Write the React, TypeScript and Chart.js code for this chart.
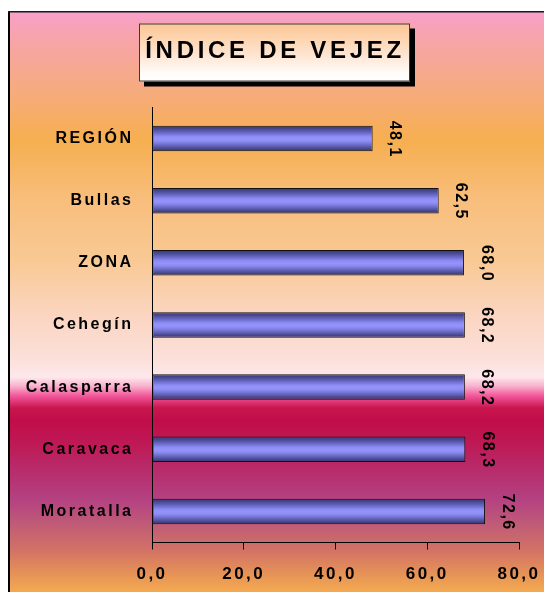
import React, { useEffect, useRef } from 'react';
import { Chart, registerables } from 'chart.js';

Chart.register(...registerables);

// ---- data ----
const categories = ['REGIÓN', 'Bullas', 'ZONA', 'Cehegín', 'Calasparra', 'Caravaca', 'Moratalla'];
const values = [48.1, 62.5, 68.0, 68.2, 68.2, 68.3, 72.6];
const xTicks = [0, 20, 40, 60, 80];
const titleText = 'ÍNDICE DE VEJEZ';

// ---- styles ----
const FONT = '"Liberation Sans", Arial, Helvetica, sans-serif';
const BAR_FRACTION = 0.41;
const bgStops: [number, string][] = [
  [11, '#F9A0CA'],
  [40, '#F7A4A8'],
  [100, '#F6AC76'],
  [140, '#F6AF50'],
  [200, '#F8BE7C'],
  [260, '#F9C994'],
  [320, '#FBD6C4'],
  [360, '#FCE0DA'],
  [377, '#FDE8EC'],
  [386, '#F9B2CE'],
  [396, '#F2569A'],
  [408, '#C8164E'],
  [420, '#C10D4A'],
  [445, '#BE1A55'],
  [470, '#B82C6C'],
  [500, '#B44282'],
  [525, '#C05C76'],
  [550, '#D27266'],
  [572, '#E49058'],
  [592, '#F4AA50'],
];
const barStops: [number, string][] = [
  [0, '#363670'],
  [0.12, '#484890'],
  [0.28, '#6a6ac8'],
  [0.42, '#8c8cf4'],
  [0.52, '#9494fc'],
  [0.62, '#8a8af0'],
  [0.76, '#6a6ac4'],
  [0.9, '#48488c'],
  [1, '#34346a'],
];

const fmt = (v: number) => Number(v).toFixed(1).replace('.', ',');

const backgroundPlugin = {
  id: 'backgroundPlugin',
  beforeDraw(chart: any) {
    const ctx = chart.ctx as CanvasRenderingContext2D;
    const W = chart.width;
    const H = chart.height;
    ctx.save();
    const g = ctx.createLinearGradient(0, 11, 0, H);
    bgStops.forEach(([y, c]) => g.addColorStop(Math.min(1, Math.max(0, (y - 11) / (H - 11))), c));
    ctx.fillStyle = g;
    ctx.fillRect(8, 11, W - 8, H - 11);
    ctx.fillStyle = '#000';
    ctx.fillRect(8, 11, 2, H - 11);
    ctx.fillStyle = '#1a1a1a';
    ctx.fillRect(8, 11, W - 8, 1.5);

    // title box
    const bx = 139, by = 23.5, bw = 271, bh = 58;
    ctx.fillStyle = '#000';
    ctx.fillRect(bx + 5, by + 5, bw, bh);
    const tg = ctx.createLinearGradient(0, by, 0, by + bh);
    tg.addColorStop(0, '#FCC693');
    tg.addColorStop(0.5, '#FEE2CC');
    tg.addColorStop(0.85, '#FFFBF8');
    tg.addColorStop(1, '#FFFFFF');
    ctx.fillStyle = tg;
    ctx.fillRect(bx, by, bw, bh);
    ctx.strokeStyle = '#3a3a3a';
    ctx.lineWidth = 1;
    ctx.strokeRect(bx + 0.5, by + 0.5, bw - 1, bh - 1);
    ctx.font = `bold 24px ${FONT}`;
    (ctx as any).letterSpacing = '3.7px';
    ctx.textAlign = 'center';
    ctx.textBaseline = 'alphabetic';
    ctx.fillStyle = '#000';
    ctx.fillText(titleText, bx + bw / 2 + 0.5, by + 34.3);
    ctx.restore();
    (ctx as any).letterSpacing = '2.5px';
  },
  afterDatasetsDraw(chart: any) {
    const ctx = chart.ctx as CanvasRenderingContext2D;
    const meta = chart.getDatasetMeta(0);
    meta.data.forEach((bar: any, i: number) => {
      ctx.save();
      ctx.translate(bar.x + 22, bar.y);
      ctx.rotate(Math.PI / 2);
      ctx.font = `bold 16px ${FONT}`;
      (ctx as any).letterSpacing = '1.5px';
      ctx.textAlign = 'center';
      ctx.textBaseline = 'middle';
      ctx.fillStyle = '#000';
      ctx.fillText(fmt(values[i]), 0.75, 0);
      ctx.restore();
    });
  },
  afterDraw(chart: any) {
    (chart.ctx as any).letterSpacing = '0px';
  },
};

export default function App() {
  const ref = useRef<HTMLCanvasElement | null>(null);

  useEffect(() => {
    if (!ref.current) return;
    const chart = new Chart(ref.current, {
      type: 'bar',
      data: {
        labels: categories,
        datasets: [
          {
            data: values,
            backgroundColor: (c: any) => {
              const ch = c.chart;
              const y = ch && ch.scales && ch.scales.y;
              if (!y || c.dataIndex === undefined) return '#8888ee';
              const center = y.getPixelForValue(c.dataIndex);
              const step = Math.abs(y.getPixelForValue(1) - y.getPixelForValue(0));
              const half = (step * BAR_FRACTION) / 2;
              if (!isFinite(center) || !isFinite(half) || half <= 0) return '#8888ee';
              const g = ch.ctx.createLinearGradient(0, center - half, 0, center + half);
              barStops.forEach(([o, col]) => g.addColorStop(o, col));
              return g;
            },
            borderColor: '#111111',
            borderWidth: 1,
            borderSkipped: false,
            barPercentage: BAR_FRACTION,
            categoryPercentage: 1,
          },
        ],
      },
      options: {
        indexAxis: 'y',
        animation: false,
        responsive: false,
        devicePixelRatio: 1,
        layout: { padding: { left: 0, top: 107.4, right: 25, bottom: 0 } },
        plugins: {
          legend: { display: false },
          tooltip: { enabled: false },
          title: { display: false },
        },
        scales: {
          x: {
            type: 'linear',
            position: 'bottom',
            min: 0,
            max: 80,
            afterBuildTicks: (s: any) => {
              s.ticks = xTicks.map((v) => ({ value: v }));
            },
            ticks: {
              callback: (v: any) => fmt(v),
              font: { family: FONT, size: 17, weight: 'bold' },
              color: '#000',
              padding: 15,
              maxRotation: 0,
              autoSkip: false,
            },
            grid: {
              display: true,
              drawOnChartArea: false,
              drawTicks: true,
              tickLength: 7,
              color: '#000',
              lineWidth: 1,
            },
            border: { display: true, color: '#000', width: 1 },
            afterFit: (s: any) => {
              s.height = 49.5;
              s.paddingLeft = 0;
              s.paddingRight = 0;
            },
          },
          y: {
            type: 'category',
            ticks: {
              font: { family: FONT, size: 16, weight: 'bold' },
              color: '#000',
              padding: 18.5,
              autoSkip: false,
            },
            grid: { display: false, drawTicks: false },
            border: { display: true, color: '#000', width: 1 },
            afterFit: (s: any) => {
              s.width = 152;
              s.paddingTop = 0;
              s.paddingBottom = 0;
            },
          },
        },
      } as any,
      plugins: [backgroundPlugin],
    });
    return () => chart.destroy();
  }, []);

  return (
    <canvas
      ref={ref}
      width={544}
      height={592}
      style={{ position: 'fixed', left: 0, top: 0, width: 544, height: 592, display: 'block' }}
    />
  );
}
